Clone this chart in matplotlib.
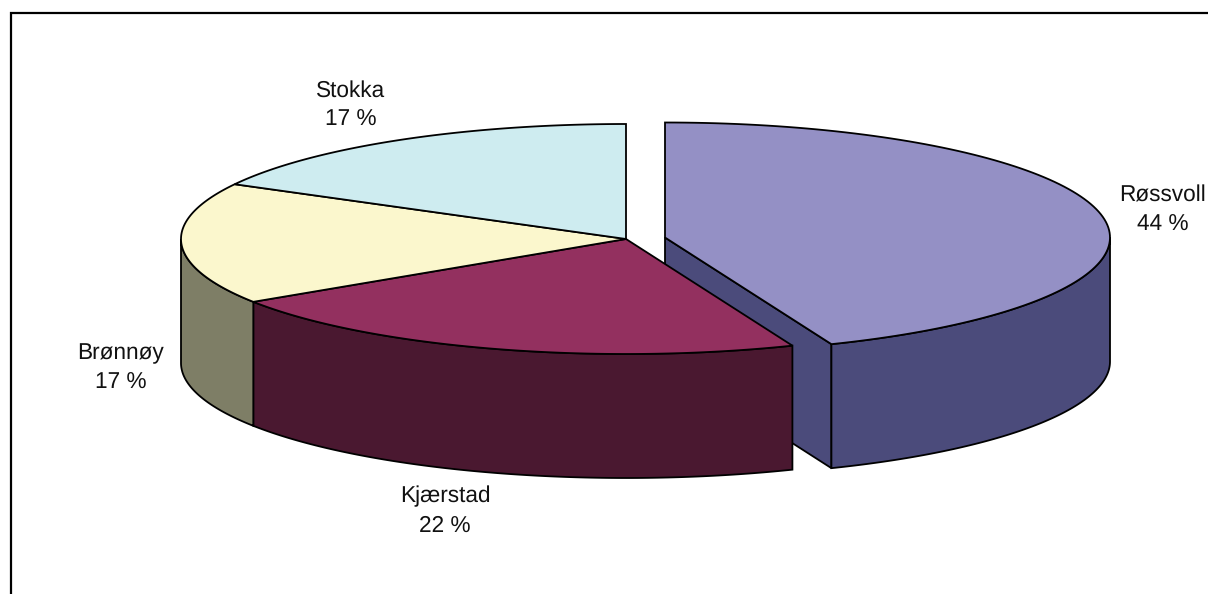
import numpy as np
import matplotlib
matplotlib.use("Agg")
import matplotlib.pyplot as plt
from matplotlib.patches import Polygon

# shares read from the slice edges, labels show them rounded
names = ["Røssvoll", "Kjærstad", "Brønnøy", "Stokka"]
shares = [43.9, 21.9, 17.1, 17.1]
top_colors = ["#9490C5", "#93305F", "#FBF7CD", "#CEECF0"]
side_colors = ["#4B4B7B", "#4A1830", "#7E7E66", "#7F9499"]
label_pos = [(1163, 210), (445, 511), (120.5, 368), (351, 105)]

# pie geometry in picture pixels
cx, cy = 626, 239
rx, ry = 445, 115
depth = 124
explode = (39, -1.5)

plt.rcParams["font.family"] = ["Liberation Sans", "DejaVu Sans"]
plt.rcParams["text.hinting"] = "no_hinting"

fig = plt.figure(figsize=(12.08, 5.94), dpi=100)
ax = fig.add_axes([0, 0, 1, 1])
ax.set_xlim(0, 1208)
ax.set_ylim(594, 0)
ax.axis("off")


def arc(start, end, ox, oy, n=120):
	# angles in degrees, clockwise from twelve o'clock
	t = np.radians(np.linspace(start, end, n))
	return np.column_stack((ox + rx * np.sin(t), oy - ry * np.cos(t)))


def draw_side(start, end, ox, oy, color, z):
	# only the front half of the rim can be seen
	a, b = max(start, 90), min(end, 270)
	if a >= b:
		return
	upper = arc(a, b, ox, oy)
	lower = upper[::-1] + [0, depth]
	ax.add_patch(Polygon(np.vstack((upper, lower)), closed=True, fc=color, ec="black", lw=1.3, zorder=z))


ends = np.cumsum(shares) / np.sum(shares) * 360
starts = np.concatenate(([0], ends[:-1]))

# the wall of the cut on the pulled out slice goes first, the rest covers it
ox, oy = cx + explode[0], cy + explode[1]
p = arc(ends[0], ends[0], ox, oy, 2)[0]
wall = [(ox, oy), tuple(p), (p[0], p[1] + depth), (ox, oy + depth)]
ax.add_patch(Polygon(wall, closed=True, fc=side_colors[0], ec="black", lw=1.3, zorder=1))

for i in range(len(names)):
	ox, oy = cx, cy
	if i == 0:
		ox, oy = cx + explode[0], cy + explode[1]
	z = 2 + i
	draw_side(starts[i], ends[i], ox, oy, side_colors[i], z)
	top = np.vstack(([(ox, oy)], arc(starts[i], ends[i], ox, oy)))
	ax.add_patch(Polygon(top, closed=True, fc=top_colors[i], ec="black", lw=1.3, zorder=z + 0.5))

for i in range(len(names)):
	ax.text(label_pos[i][0], label_pos[i][1], "%s\n%d %%" % (names[i], round(shares[i])),
		ha="center", va="center", fontsize=16.3, color="#111111", linespacing=1.46, zorder=10)

# frame runs off the picture at right and bottom
ax.plot([11, 11, 1208], [594, 13, 13], color="black", lw=1.6, solid_joinstyle="miter", zorder=11)

fig.savefig("out.png", dpi=100)
